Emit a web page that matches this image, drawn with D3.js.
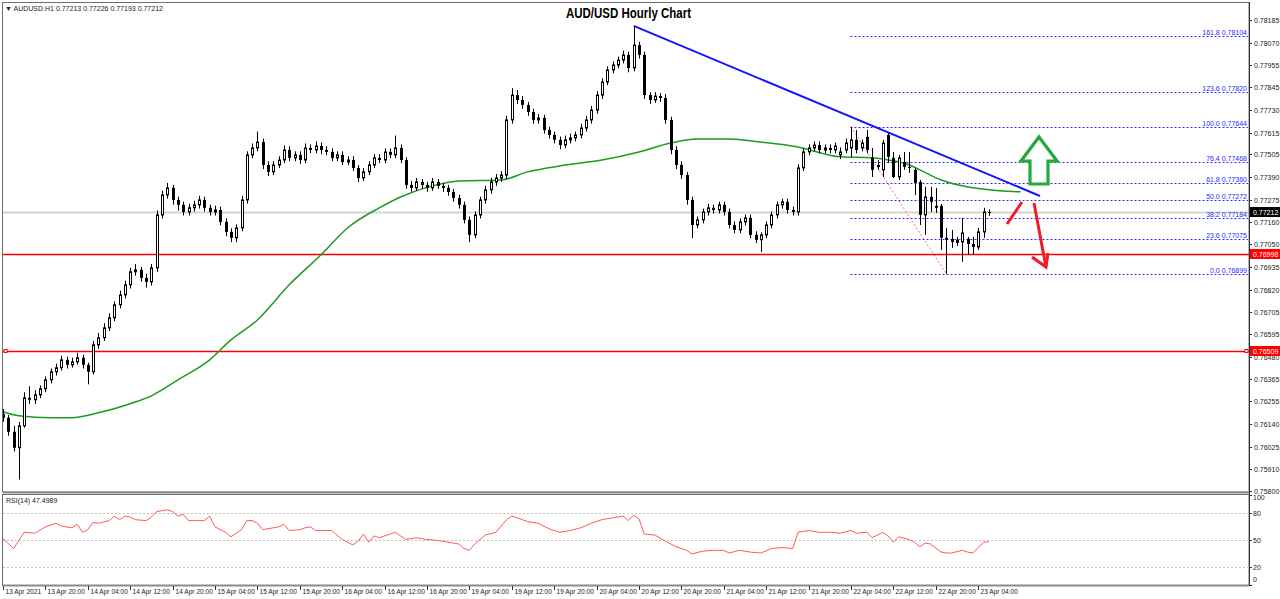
<!DOCTYPE html>
<html><head><meta charset="utf-8">
<script src="https://cdn.jsdelivr.net/npm/d3@7"></script>
<style>body{margin:0;background:#fff;overflow:hidden}svg{display:block}</style>
</head><body><svg id="c" width="1280" height="599"></svg>
<script>
// Prices in units of 0.00001 (5-digit quotes)
const openP=[76190,76171,76100,76019,76130,76272,76262,76287,76318,76363,76404,76424,76464,76439,76454,76475,76439,76404,76540,76576,76626,76677,76743,76793,76844,76910,76920,76879,76859,76930,77198,77299,77335,77274,77249,77213,77234,77249,77274,77234,77213,77223,77163,77112,77082,77132,77274,77502,77537,77567,77451,77416,77451,77476,77527,77487,77502,77476,77537,77527,77547,77527,77517,77487,77502,77466,77476,77436,77385,77416,77451,77487,77476,77517,77502,77537,77476,77350,77335,77365,77350,77335,77365,77345,77335,77314,77284,77249,77173,77097,77198,77274,77325,77365,77385,77400,77679,77805,77780,77755,77719,77679,77689,77628,77603,77578,77552,77578,77588,77603,77638,77679,77729,77805,77871,77932,77957,77982,78008,77942,78058,78008,77805,77780,77800,77790,77679,77527,77451,77400,77274,77147,77173,77213,77234,77223,77249,77213,77147,77122,77163,77183,77097,77072,77097,77147,77198,77249,77264,77223,77213,77436,77517,77537,77552,77527,77537,77527,77502,77527,77537,77578,77537,77593,77487,77451,77426,77603,77487,77390,77466,77441,77426,77365,77198,77289,77244,77244,77082,77077,77072,77061,77077,77051,77036,77112,77213];
const highP=[76215,76185,76130,76150,76300,76330,76310,76335,76380,76420,76445,76485,76480,76475,76500,76490,76450,76560,76600,76650,76700,76760,76815,76865,76930,76950,76935,76900,76950,77220,77320,77360,77350,77290,77265,77255,77270,77295,77290,77250,77245,77240,77180,77130,77150,77295,77520,77560,77620,77585,77470,77470,77495,77550,77545,77520,77520,77560,77555,77570,77565,77545,77535,77520,77520,77495,77495,77450,77435,77470,77505,77505,77535,77535,77600,77555,77490,77370,77385,77380,77365,77385,77380,77360,77350,77330,77300,77265,77190,77215,77290,77345,77385,77405,77420,77700,77840,77830,77800,77770,77735,77710,77705,77645,77620,77595,77600,77610,77620,77660,77700,77750,77825,77890,77950,77975,78000,78030,78025,78150,78075,78025,77820,77820,77815,77810,77695,77545,77470,77415,77290,77190,77230,77255,77250,77265,77265,77230,77165,77180,77200,77200,77115,77110,77165,77215,77265,77280,77280,77240,77455,77535,77555,77570,77570,77555,77555,77565,77540,77585,77644,77628,77580,77628,77537,77476,77578,77618,77517,77502,77517,77517,77436,77375,77340,77340,77335,77254,77132,77122,77087,77183,77087,77087,77132,77234,77226];
const lowP=[76150,76080,76000,75858,76120,76240,76240,76270,76300,76345,76385,76410,76420,76425,76440,76420,76340,76390,76520,76560,76610,76660,76725,76775,76825,76890,76860,76830,76840,76910,77180,77280,77250,77220,77195,77195,77215,77230,77215,77195,77195,77145,77090,77060,77060,77115,77255,77485,77520,77430,77395,77400,77435,77460,77470,77470,77455,77460,77510,77510,77505,77500,77470,77470,77450,77450,77420,77365,77370,77400,77435,77460,77460,77485,77485,77460,77330,77315,77320,77330,77315,77320,77330,77315,77295,77265,77230,77155,77060,77080,77180,77255,77305,77345,77365,77380,77660,77760,77735,77700,77660,77660,77610,77585,77560,77530,77535,77560,77570,77585,77620,77660,77710,77785,77855,77915,77940,77965,77920,77925,77990,77785,77760,77765,77770,77660,77505,77430,77380,77250,77080,77130,77155,77195,77205,77205,77195,77130,77105,77105,77145,77080,77055,77011,77080,77130,77180,77230,77205,77195,77195,77420,77500,77520,77510,77510,77510,77510,77480,77510,77492,77510,77520,77510,77390,77426,77390,77461,77385,77375,77426,77411,77299,77147,77097,77213,77208,77021,76899,77031,77041,76960,76996,76996,77021,77082,77193];
const closeP=[76171,76100,76019,76130,76272,76262,76287,76318,76363,76404,76424,76464,76439,76454,76475,76439,76404,76540,76576,76626,76677,76743,76793,76844,76910,76920,76879,76859,76930,77198,77299,77335,77274,77249,77213,77234,77249,77274,77234,77213,77223,77163,77112,77082,77132,77274,77502,77537,77567,77451,77416,77451,77476,77527,77487,77502,77476,77537,77527,77547,77527,77517,77487,77502,77466,77476,77436,77385,77416,77451,77487,77476,77517,77502,77537,77476,77350,77335,77365,77350,77335,77365,77345,77335,77314,77284,77249,77173,77097,77198,77274,77325,77365,77385,77400,77679,77805,77780,77755,77719,77679,77689,77628,77603,77578,77552,77578,77588,77603,77638,77679,77729,77805,77871,77932,77957,77982,78008,77942,78058,78008,77805,77780,77800,77790,77679,77527,77451,77400,77274,77147,77173,77213,77234,77223,77249,77213,77147,77122,77163,77183,77097,77072,77097,77147,77198,77249,77264,77223,77213,77436,77517,77537,77552,77527,77537,77527,77547,77517,77562,77578,77527,77562,77527,77426,77441,77562,77492,77390,77487,77441,77436,77360,77198,77289,77264,77234,77082,77072,77061,77056,77107,77051,77036,77112,77213,77212];

// Moving average (green), read at bar positions (extends past last bar)
const maIdx=[0,3,9,13,18,24,28,33,39,43,48,54,60,65,71,75,81,86,94,99,105,113,120,126,131,137,143,150,158,164,167,171,173,177,183,188,192];
const maVal=[76201,76181,76171,76171,76196,76242,76282,76363,76464,76565,76666,76844,76996,77132,77234,77289,77345,77370,77375,77416,77446,77476,77517,77562,77583,77583,77567,77542,77492,77487,77476,77451,77426,77375,77335,77320,77315];

// RSI(14)
const rsiIdx=[0,2,4,6,8,10,11,13,14,15,16,17,18,20,21,22,23,24,25,27,28,29,31,32,33,34,35,37,38,39,40,42,43,45,46,47,48,49,51,52,53,54,56,57,58,59,61,62,64,66,67,68,69,70,71,73,74,76,78,80,82,84,86,87,88,89,91,93,95,96,97,99,101,103,105,107,109,111,113,115,117,118,119,120,121,123,125,127,129,130,132,134,136,137,139,141,143,145,147,149,150,152,154,156,158,160,161,163,164,166,167,168,169,171,172,173,174,175,177,178,179,181,182,183,184,185,186];
const rsiVal=[51,40,58,57,64,68,65,63,67,58,61,69,68,71,76,72,76,75,72,71,75,81,83,81,76,78,71,71,71,76,64,58,53,61,71,71,68,61,63,64,67,60,61,63,64,60,60,60,50,44,48,56,47,54,52,56,58,50,52,50,49,47,45,40,38,45,55,58,72,76,74,70,68,62,58,60,63,68,72,74,76,71,77,73,56,55,48,42,38,34,37,38,38,35,38,36,35,40,41,40,58,60,58,58,57,60,57,58,52,58,54,47,53,50,47,42,46,45,36,35,35,38,36,35,41,47,47.5];

const priceTicks=["0.78185","0.78070","0.77955","0.77845","0.77730","0.77615","0.77505","0.77390","0.77275","0.77160","0.77050","0.76935","0.76820","0.76705","0.76595","0.76480","0.76365","0.76255","0.76140","0.76025","0.75910","0.75800"];
const timeLabels=["13 Apr 2021","13 Apr 20:00","14 Apr 04:00","14 Apr 12:00","14 Apr 20:00","15 Apr 04:00","15 Apr 12:00","15 Apr 20:00","16 Apr 04:00","16 Apr 12:00","16 Apr 20:00","19 Apr 04:00","19 Apr 12:00","19 Apr 20:00","20 Apr 04:00","20 Apr 12:00","20 Apr 20:00","21 Apr 04:00","21 Apr 12:00","21 Apr 20:00","22 Apr 04:00","22 Apr 12:00","22 Apr 20:00","23 Apr 04:00"];
const fibLevels=["161.8","123.6","100.0","76.4","61.8","50.0","38.2","23.6","0.0"];
const fibPrices=[0.78104,0.77820,0.77644,0.77468,0.77360,0.77272,0.77184,0.77075,0.76899];
const supportLines=[0.76998,0.76509];
const lastPrice=0.77212;
const rsiLevels=[80,50,20];
const rsiAxis=[100,80,50,20,0];

const FONT='"Liberation Sans", Arial, sans-serif';
const svg=d3.select("#c").style("font-family",FONT);
const L=3,R=1249,T=2,MB=492,RT=494,RB=585;
const n=closeP.length;
const x=d3.scaleLinear().domain([0,186]).range([3,988.8]);
const y=d3.scaleLinear().domain([0.75800,0.78185]).range([491,20]);
const yr=d3.scaleLinear().domain([0,100]).range([584.5,494.5]);
const P=v=>v/100000;

svg.append("rect").attr("x",0).attr("y",0).attr("width",1280).attr("height",599).attr("fill","#fff");
const defs=svg.append("defs");
defs.append("clipPath").attr("id","mc").append("rect").attr("x",L).attr("y",T).attr("width",R-L).attr("height",MB-T);
defs.append("clipPath").attr("id","rc").append("rect").attr("x",L).attr("y",RT).attr("width",R-L).attr("height",RB-RT);

// current price gray line
svg.append("line").attr("x1",L).attr("x2",R).attr("y1",Math.round(y(lastPrice))+0.5).attr("y2",Math.round(y(lastPrice))+0.5).attr("stroke","#d4d4d4").attr("stroke-width",2);

// fib levels
const fibStart=x(160)-0.5;
fibPrices.forEach((p,i)=>{
  const yy=Math.round(y(p))+0.5;
  svg.append("line").attr("x1",fibStart).attr("x2",R-1).attr("y1",yy).attr("y2",yy).attr("stroke","#2a2aff").attr("stroke-dasharray","2,2");
  svg.append("text").attr("x",R-2).attr("y",yy-2).attr("text-anchor","end").attr("font-size",7).attr("fill","#2a2aff").text(fibLevels[i]+" "+p.toFixed(5));
});
svg.append("line").attr("x1",x(160)).attr("y1",y(0.77644)).attr("x2",x(178)).attr("y2",y(0.76899)).attr("stroke","#ff6a6a").attr("stroke-dasharray","2,2");

// support/resistance red lines
supportLines.forEach(p=>{
  const yy=Math.round(y(p))+0.5;
  svg.append("line").attr("x1",L).attr("x2",R).attr("y1",yy).attr("y2",yy).attr("stroke","#ff0000").attr("stroke-width",1.5);
});
svg.append("rect").attr("x",L+1).attr("y",Math.round(y(0.76509))-1.5).attr("width",3).attr("height",3).attr("fill","#fff").attr("stroke","#ff0000");
svg.append("rect").attr("x",R-4).attr("y",Math.round(y(0.76509))-1.5).attr("width",3).attr("height",3).attr("fill","#fff").attr("stroke","#ff0000");

// MA
svg.append("path").datum(maIdx.map((d,i)=>[d,maVal[i]]))
  .attr("d",d3.line().x(d=>x(d[0])).y(d=>y(P(d[1]))).curve(d3.curveMonotoneX))
  .attr("fill","none").attr("stroke","#1e9a1e").attr("stroke-width",1.5);

// candles
const cg=svg.append("g").attr("clip-path","url(#mc)");
for(let i=0;i<n;i++){
  const px=Math.round(x(i));
  const o=y(P(openP[i])),c=y(P(closeP[i])),h=y(P(highP[i])),l=y(P(lowP[i]));
  cg.append("line").attr("x1",px+0.5).attr("x2",px+0.5).attr("y1",h).attr("y2",l).attr("stroke","#000");
  const top=Math.min(o,c),bh=Math.max(1,Math.abs(o-c));
  if(closeP[i]>=openP[i]){
    cg.append("rect").attr("x",px-0.5).attr("y",top).attr("width",2).attr("height",bh).attr("fill","#fff").attr("stroke","#000");
  } else {
    cg.append("rect").attr("x",px-1).attr("y",top).attr("width",3).attr("height",bh).attr("fill","#000");
  }
}

// blue trendline
svg.append("line").attr("x1",x(119)).attr("y1",y(0.78155)).attr("x2",1040).attr("y2",196).attr("stroke","#1414ff").attr("stroke-width",2);

// green arrow
svg.append("path").attr("d","M1039,137 L1057,161 L1048,161 L1048,184 L1030,184 L1030,161 L1021,161 Z").attr("fill","#fff").attr("stroke","#22aa3a").attr("stroke-width",3.2).attr("stroke-linejoin","miter");
// red arrows
svg.append("line").attr("x1",1007).attr("y1",224).attr("x2",1022).attr("y2",202).attr("stroke","#ee1c24").attr("stroke-width",3);
svg.append("line").attr("x1",1034).attr("y1",203).attr("x2",1046).attr("y2",267).attr("stroke","#ee1c24").attr("stroke-width",3);
svg.append("path").attr("d","M1032,257 L1046,267 L1048,253").attr("fill","none").attr("stroke","#ee1c24").attr("stroke-width",3);

// frames
svg.append("rect").attr("x",L-0.5).attr("y",T+0.5).attr("width",R-L+0.5).attr("height",MB-T-0.5).attr("fill","none").attr("stroke","#6e6e6e");
svg.append("line").attr("x1",L).attr("x2",R).attr("y1",MB+0.5).attr("y2",MB+0.5).attr("stroke","#8a8a8a").attr("stroke-width",2);
svg.append("rect").attr("x",L-0.5).attr("y",RT+0.5).attr("width",R-L+0.5).attr("height",RB-RT).attr("fill","none").attr("stroke","#6e6e6e");
svg.append("line").attr("x1",L).attr("x2",R).attr("y1",RB+0.5).attr("y2",RB+0.5).attr("stroke","#8a8a8a").attr("stroke-width",2);

// price axis
const pa=svg.append("g");
priceTicks.forEach(t=>{
  const yy=Math.round(y(+t))+0.5;
  pa.append("line").attr("x1",R).attr("x2",R+3).attr("y1",yy).attr("y2",yy).attr("stroke","#333");
  pa.append("text").attr("x",R+5).attr("y",yy+2.5).attr("font-size",7).attr("fill","#222").text(t);
});
function tag(p,bg){
  const yy=Math.round(y(p));
  pa.append("rect").attr("x",R+1).attr("y",yy-5).attr("width",30).attr("height",10).attr("fill",bg);
  pa.append("text").attr("x",R+4).attr("y",yy+3).attr("font-size",7).attr("fill","#fff").text(p.toFixed(5));
}
tag(0.76998,"#ff0000");tag(0.76509,"#ff0000");tag(lastPrice,"#000");

// RSI
svg.append("g").selectAll("line").data(rsiLevels).join("line").attr("x1",L).attr("x2",R).attr("y1",d=>Math.round(yr(d))+0.5).attr("y2",d=>Math.round(yr(d))+0.5).attr("stroke","#c0c0c0").attr("stroke-dasharray","2,2");
svg.append("path").attr("clip-path","url(#rc)").datum(rsiIdx.map((d,i)=>[d,rsiVal[i]]))
  .attr("d",d3.line().x(d=>x(d[0])).y(d=>yr(d[1])))
  .attr("fill","none").attr("stroke","#ff5a5a").attr("stroke-width",1);
rsiAxis.forEach(v=>{
  const yy=Math.round(yr(v))+0.5;
  svg.append("line").attr("x1",R).attr("x2",R+3).attr("y1",yy).attr("y2",yy).attr("stroke","#333");
  svg.append("text").attr("x",R+4).attr("y",Math.min(Math.max(yy+2.5,500),582)).attr("font-size",7).attr("fill","#222").text(v);
});
svg.append("text").attr("x",6).attr("y",503).attr("font-size",7).attr("fill","#222").text("RSI(14) 47.4989");

// time axis
timeLabels.forEach((t,k)=>{
  const xx=Math.round(x(k*8))+0.5;
  svg.append("line").attr("x1",xx).attr("x2",xx).attr("y1",RB+1).attr("y2",RB+5).attr("stroke","#333");
  svg.append("text").attr("x",xx+2).attr("y",594).attr("font-size",6.6).attr("fill","#222").text(t);
});
svg.append("line").attr("x1",R+0.5).attr("x2",R+0.5).attr("y1",T).attr("y2",RB+1).attr("stroke","#333");

// header & title
svg.append("text").attr("x",5).attr("y",11).attr("font-size",7).attr("fill","#222").text("\u25BC AUDUSD.H1  0.77213 0.77226 0.77193 0.77212");
svg.append("text").attr("x",566).attr("y",18).attr("font-size",14).attr("font-weight","bold").attr("fill","#000")
  .attr("textLength",125).attr("lengthAdjust","spacingAndGlyphs").text("AUD/USD Hourly Chart");
</script></body></html>
